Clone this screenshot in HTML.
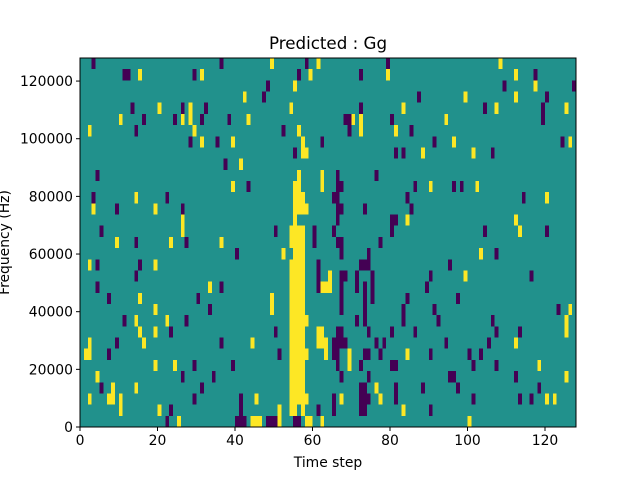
<!DOCTYPE html>
<html><head><meta charset="utf-8"><style>
body{margin:0;background:#fff;width:640px;height:480px;overflow:hidden}
text{font-family:"DejaVu Sans","Liberation Sans",sans-serif;fill:#000}
</style></head><body>
<svg id="chart" width="640" height="480" xmlns="http://www.w3.org/2000/svg"></svg>
<script>
// data: runs of [row(top=0), colStart, colEnd, value(1=low,2=high)]
const nCols = 128;
const nRows = 33;
const xTicks = [0,20,40,60,80,100,120];
const yTicks = [0,20000,40000,60000,80000,100000,120000];
const yMax = 128000;
const runs = [
[0,3,3,1],[0,36,36,1],[0,49,49,2],[0,58,58,1],[0,61,61,2],[0,79,79,1],[0,108,108,2],
[1,11,12,1],[1,15,15,2],[1,29,29,1],[1,31,31,2],[1,56,56,1],[1,59,59,2],[1,72,72,1],[1,79,79,2],[1,112,112,2],[1,117,117,1],
[2,48,48,1],[2,55,55,2],[2,109,109,1],[2,117,117,2],[2,127,127,1],
[3,42,42,2],[3,47,47,1],[3,87,87,1],[3,99,99,2],[3,112,112,2],[3,120,120,1],
[4,13,13,1],[4,20,20,2],[4,26,26,1],[4,28,28,2],[4,32,32,1],[4,54,54,2],[4,72,72,1],[4,83,83,2],[4,104,104,1],[4,107,107,2],[4,119,119,1],[4,125,125,2],
[5,10,10,2],[5,16,16,1],[5,24,24,1],[5,26,26,2],[5,28,28,2],[5,31,31,1],[5,38,38,1],[5,43,43,2],[5,68,69,1],[5,70,70,2],[5,72,72,2],[5,80,80,1],[5,94,94,2],[5,119,119,1],
[6,2,2,2],[6,14,14,1],[6,29,29,2],[6,52,52,1],[6,56,56,2],[6,69,69,1],[6,72,72,2],[6,81,81,2],[6,85,85,1],
[7,28,28,1],[7,31,31,2],[7,35,35,1],[7,39,39,2],[7,57,57,2],[7,62,62,1],[7,91,91,1],[7,96,96,2],[7,124,124,1],[7,126,126,2],
[8,55,55,1],[8,57,58,2],[8,81,81,1],[8,83,83,1],[8,88,88,2],[8,101,101,2],[8,106,106,1],
[9,37,37,1],[9,41,41,2],
[10,4,4,1],[10,56,56,2],[10,62,62,2],[10,66,66,1],[10,76,76,1],
[11,39,39,2],[11,43,43,1],[11,55,56,2],[11,62,62,2],[11,66,67,1],[11,86,86,1],[11,90,90,2],[11,96,96,1],[11,98,98,1],[11,102,102,2],
[12,3,3,1],[12,14,14,2],[12,22,22,1],[12,55,57,2],[12,65,66,1],[12,84,84,1],[12,114,114,1],[12,120,120,2],
[13,3,3,2],[13,9,9,1],[13,19,19,2],[13,26,26,1],[13,55,58,2],[13,66,67,1],[13,73,73,1],[13,85,85,1],
[14,26,26,2],[14,55,55,2],[14,66,66,1],[14,80,81,1],[14,84,84,2],[14,112,112,2],
[15,5,5,1],[15,26,26,2],[15,50,50,1],[15,54,57,2],[15,60,60,1],[15,65,65,1],[15,80,80,1],[15,104,104,1],[15,113,113,2],[15,120,120,1],
[16,9,9,2],[16,14,14,1],[16,23,23,2],[16,27,27,1],[16,36,36,2],[16,54,57,2],[16,60,60,1],[16,66,67,1],[16,77,77,1],
[17,40,40,1],[17,52,52,2],[17,55,57,2],[17,67,67,1],[17,74,74,1],[17,103,103,2],[17,107,107,1],
[18,2,2,2],[18,4,4,1],[18,15,15,1],[18,19,19,2],[18,54,57,2],[18,61,61,1],[18,72,74,1],[18,95,95,1],
[19,14,14,1],[19,54,57,2],[19,61,61,1],[19,64,64,2],[19,67,68,1],[19,71,71,1],[19,75,75,1],[19,90,90,1],[19,99,99,2],[19,116,116,1],
[20,4,4,1],[20,33,33,2],[20,36,36,1],[20,54,57,2],[20,61,61,1],[20,62,62,2],[20,63,64,2],[20,67,67,1],[20,71,71,1],[20,73,73,1],[20,75,75,1],[20,89,89,1],
[21,7,7,1],[21,15,15,2],[21,30,30,1],[21,49,49,2],[21,54,57,2],[21,67,67,1],[21,73,73,1],[21,75,75,1],[21,84,84,1],[21,97,97,1],
[22,19,19,2],[22,33,33,1],[22,49,49,2],[22,54,57,2],[22,67,67,1],[22,73,73,1],[22,83,83,1],[22,91,91,1],[22,123,123,1],[22,126,126,2],
[23,11,11,1],[23,14,14,2],[23,22,22,2],[23,27,27,1],[23,54,58,2],[23,71,71,1],[23,73,73,1],[23,83,83,1],[23,92,92,1],[23,106,106,1],[23,125,125,2],
[24,15,15,2],[24,19,19,2],[24,23,23,1],[24,50,50,1],[24,54,57,2],[24,61,62,2],[24,66,67,1],[24,74,74,1],[24,80,80,1],[24,86,86,1],[24,107,107,1],[24,113,113,1],[24,125,125,2],
[25,2,2,2],[25,9,9,1],[25,16,16,2],[25,36,36,1],[25,44,44,2],[25,54,57,2],[25,61,63,2],[25,65,68,1],[25,76,76,1],[25,78,78,1],[25,94,94,1],[25,105,105,1],[25,112,112,2],
[26,1,2,2],[26,7,7,1],[26,51,51,1],[26,54,58,2],[26,63,63,2],[26,65,66,1],[26,69,69,2],[26,73,74,1],[26,77,77,1],[26,84,84,2],[26,90,90,1],[26,100,100,1],[26,103,103,1],
[27,19,19,2],[27,24,24,2],[27,29,29,1],[27,39,39,1],[27,54,57,2],[27,66,66,1],[27,69,69,2],[27,72,72,1],[27,80,81,1],[27,101,101,1],[27,107,107,1],[27,118,118,2],
[28,4,4,2],[28,26,26,1],[28,34,34,1],[28,54,57,2],[28,67,67,1],[28,74,74,1],[28,95,96,1],[28,112,112,1],[28,125,125,2],
[29,5,5,1],[29,8,8,2],[29,14,14,2],[29,31,31,1],[29,54,57,2],[29,72,73,1],[29,76,76,2],[29,81,81,1],[29,88,88,1],[29,97,97,1],[29,118,118,1],
[30,2,2,2],[30,7,8,2],[30,10,10,2],[30,29,29,1],[30,41,41,1],[30,45,45,2],[30,54,58,2],[30,65,65,1],[30,67,67,2],[30,72,74,1],[30,77,77,2],[30,81,81,1],[30,101,101,1],[30,113,113,1],[30,116,116,1],[30,120,120,2],[30,122,122,2],
[31,10,10,2],[31,20,20,2],[31,23,23,1],[31,41,41,1],[31,51,51,2],[31,54,55,2],[31,57,57,2],[31,61,61,1],[31,65,65,1],[31,72,73,1],[31,83,83,2],[31,90,90,1],
[32,22,22,1],[32,25,25,2],[32,40,42,1],[32,44,46,2],[32,48,50,1],[32,51,51,2],[32,55,56,1],[32,58,59,2],[32,62,62,2],[32,100,100,2]
];
const colors = ["#21918c","#440154","#fde725"];
const L=80,T=58,W=496,H=369;
const xs = c => L + c*W/nCols;
const ys = v => T + H - v/yMax*H;
const rowY = r => T + r*H/nRows;
const NS="http://www.w3.org/2000/svg";
const svg=document.getElementById('chart');
function mk(tag,attrs,parent){const e=document.createElementNS(NS,tag);for(const k in attrs)e.setAttribute(k,attrs[k]);(parent||svg).appendChild(e);return e;}
const bg=mk('rect',{x:L,y:T,width:W,height:H,fill:colors[0]});


const g=mk('g',{'shape-rendering':'crispEdges'});


runs.forEach(r=>{
  const x0=xs(r[1]),x1=xs(r[2]+1),y0=rowY(r[0]),y1=rowY(r[0]+1);
  const c=mk('rect',{x:x0,y:y0,width:x1-x0,height:y1-y0,fill:colors[r[3]]},g);
  
  
});
const fr=mk('rect',{x:L,y:T,width:W,height:H,fill:'none',stroke:'#000','stroke-width':1});


xTicks.forEach(v=>{
  const x=xs(v);
  const t=mk('line',{x1:x,x2:x,y1:T+H,y2:T+H+4,stroke:'#000'});
  
  
  const l=mk('text',{x:x,y:T+H+18,'font-size':13.9,'text-anchor':'middle'});
  l.textContent=v;
  
  
});
yTicks.forEach(v=>{
  const y=ys(v);
  const t=mk('line',{x1:L-4,x2:L,y1:y,y2:y,stroke:'#000'});
  
  
  const l=mk('text',{x:L-7,y:y+5,'font-size':13.9,'text-anchor':'end'});
  l.textContent=v;
  
  
});
const tt=mk('text',{x:L+W/2,y:49,'font-size':16.7,'text-anchor':'middle'});
tt.textContent='Predicted : Gg';


const xl=mk('text',{x:L+W/2,y:467,'font-size':13.9,'text-anchor':'middle'});
xl.textContent='Time step';


const yl=mk('text',{x:0,y:0,'font-size':13.9,'text-anchor':'middle',transform:'translate(9,'+(T+H/2)+') rotate(-90)'});
yl.textContent='Frequency (Hz)';


</script>
</body></html>
